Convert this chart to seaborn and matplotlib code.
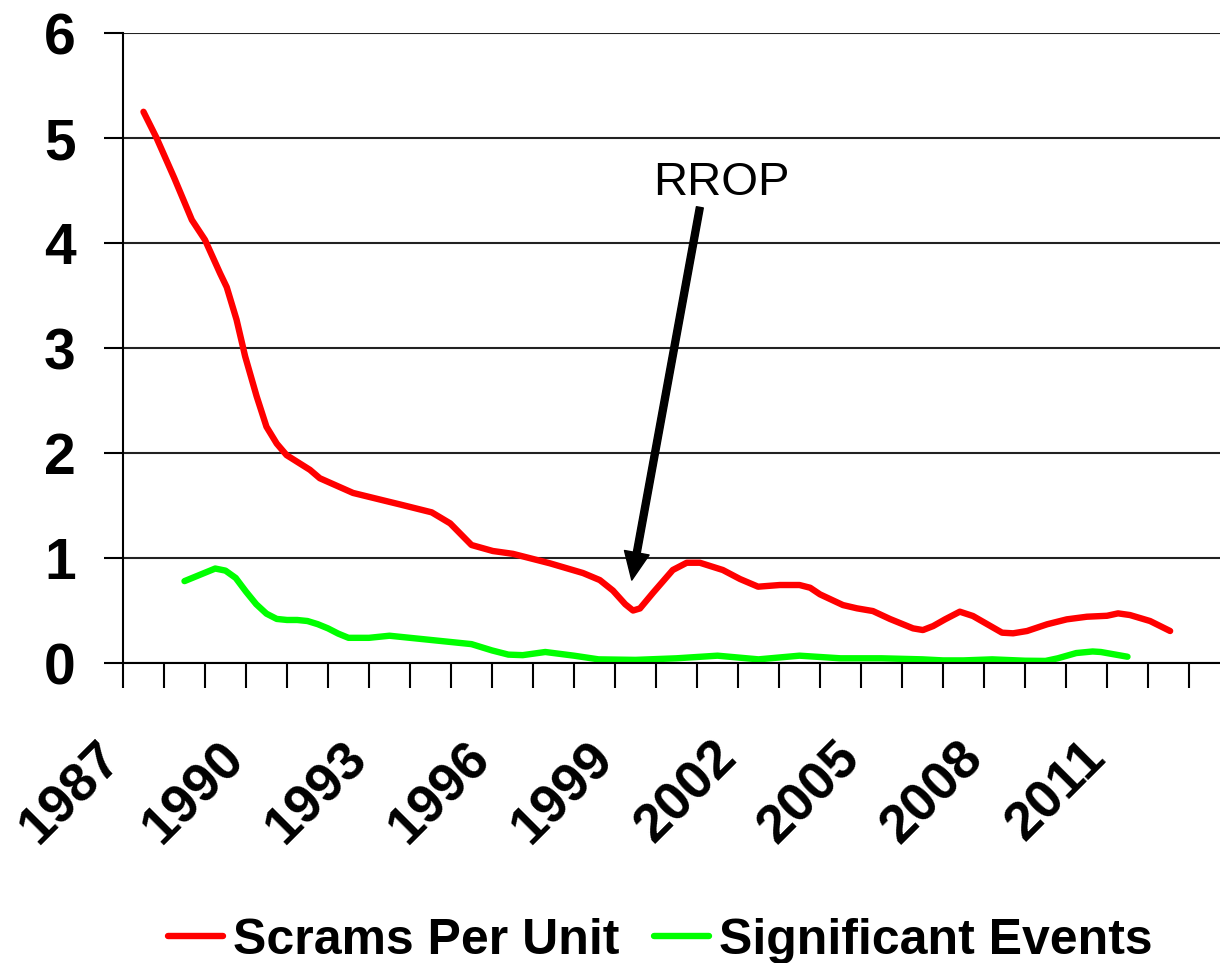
import matplotlib
matplotlib.use("Agg")
import matplotlib.pyplot as plt
import matplotlib.transforms as mtransforms
import pandas as pd
import seaborn as sns

# (year position, value)
scram_years = [1987.0, 1987.32, 1987.75, 1988.18, 1988.5, 1988.87, 1989.03, 1989.27,
               1989.48, 1989.76, 1990.0, 1990.25, 1990.49, 1991.06, 1991.3, 1992.11,
               1992.84, 1993.26, 1994.03, 1994.48, 1995.0, 1995.52, 1996.01, 1996.91,
               1997.72, 1998.13, 1998.45, 1998.75, 1998.94, 1999.11, 1999.43, 1999.91,
               2000.25, 2000.57, 2001.13, 2001.55, 2001.99, 2002.52, 2003.0, 2003.26,
               2003.5, 2004.06, 2004.4, 2004.79, 2005.21, 2005.77, 2006.01, 2006.26,
               2006.55, 2006.91, 2007.23, 2007.94, 2008.21, 2008.55, 2009.04, 2009.52,
               2010.01, 2010.5, 2010.77, 2011.06, 2011.55, 2012.04]
scram_vals = [5.25, 5.00, 4.62, 4.22, 4.03, 3.71, 3.58, 3.27,
              2.92, 2.54, 2.25, 2.09, 1.98, 1.84, 1.76, 1.62,
              1.55, 1.51, 1.435, 1.33, 1.124, 1.067, 1.04, 0.95,
              0.857, 0.79, 0.69, 0.56, 0.50, 0.52, 0.67, 0.886,
              0.955, 0.955, 0.886, 0.80, 0.727, 0.743, 0.743, 0.717,
              0.654, 0.552, 0.521, 0.495, 0.419, 0.33, 0.314, 0.352,
              0.416, 0.489, 0.448, 0.289, 0.283, 0.305, 0.369, 0.416,
              0.441, 0.45, 0.473, 0.457, 0.40, 0.305]

event_years = [1988.0, 1988.25, 1988.5, 1988.75, 1989.0, 1989.25, 1989.5, 1989.75,
               1990.0, 1990.25, 1990.5, 1990.75, 1991.0, 1991.25, 1991.5, 1991.75,
               1992.0, 1992.5, 1993.0, 1993.5, 1994.0, 1994.5, 1995.0, 1995.5,
               1995.9, 1996.25, 1996.8, 1997.5, 1998.1, 1999.0, 2000.0, 2001.0,
               2002.0, 2003.0, 2004.0, 2005.0, 2006.0, 2006.5, 2007.0, 2007.7,
               2008.5, 2009.0, 2009.3, 2009.75, 2010.15, 2010.35, 2011.0]
event_vals = [0.78, 0.82, 0.86, 0.90, 0.88, 0.81, 0.68, 0.56,
              0.47, 0.42, 0.41, 0.41, 0.40, 0.37, 0.33, 0.28,
              0.24, 0.24, 0.26, 0.24, 0.22, 0.20, 0.18, 0.12,
              0.08, 0.075, 0.105, 0.07, 0.035, 0.03, 0.045, 0.07,
              0.035, 0.07, 0.045, 0.045, 0.035, 0.025, 0.025, 0.035,
              0.022, 0.02, 0.045, 0.095, 0.11, 0.105, 0.06]

label_years = list(range(1987, 2012, 3))
series_names = ["Scrams Per Unit", "Significant Events"]

df = pd.concat([
    pd.DataFrame({"year": scram_years, "value": scram_vals, "series": series_names[0]}),
    pd.DataFrame({"year": event_years, "value": event_vals, "series": series_names[1]}),
])

sns.set_style("white")
plt.rcParams["font.family"] = ["Liberation Sans", "DejaVu Sans"]
plt.rcParams["text.color"] = "black"
plt.rcParams["xtick.color"] = "black"
plt.rcParams["ytick.color"] = "black"

fig = plt.figure(figsize=(12.2, 9.63), dpi=100)
ax = fig.add_axes([0.1008, 0.3115, 0.9074, 0.6542])

sns.lineplot(data=df, x="year", y="value", hue="series", estimator=None,
             palette={series_names[0]: "#ff0000", series_names[1]: "#00ff00"},
             linewidth=4.6, ax=ax)
for ln in ax.lines:
    ln.set_solid_capstyle("round")
    ln.set_solid_joinstyle("round")

ax.set_xlim(1986.5, 2013.5)
ax.set_ylim(0, 6)
ax.set_xlabel("")
ax.set_ylabel("")

# year boundaries as tick marks, labels centred on the years
ax.set_xticks([y - 0.5 for y in range(1987, 2014)])
ax.set_xticklabels([])
ax.set_xticks(label_years, minor=True)
ax.set_xticklabels([str(y) for y in label_years], minor=True, rotation=45,
                   ha="right", va="top", fontsize=39, fontweight="bold")
ax.tick_params(axis="x", which="major", direction="out", length=18, width=1.5,
               color="black", bottom=True)
ax.tick_params(axis="x", which="minor", length=0, pad=50)

ax.set_yticks(range(0, 7))
ax.set_yticklabels([str(v) for v in range(0, 7)], fontsize=41, fontweight="bold")
ax.tick_params(axis="y", direction="out", length=14, width=1.5, color="black",
               left=True, pad=20)

ax.grid(axis="y", color="#222222", linewidth=1.5)
ax.grid(axis="x", visible=False)
for side in ["top", "right"]:
    ax.spines[side].set_visible(False)
for side in ["left", "bottom"]:
    ax.spines[side].set_color("black")
    ax.spines[side].set_linewidth(1.5)

shift = mtransforms.ScaledTranslation(-12 / 100, 0, fig.dpi_scale_trans)
for lab in ax.get_xticklabels(minor=True):
    lab.set_transform(lab.get_transform() + shift)

ax.annotate("", xy=(1998.91, 0.79), xytext=(2000.57, 4.34),
            arrowprops=dict(facecolor="black", edgecolor="black", width=5,
                            headwidth=18, headlength=20, shrink=0))
ax.text(2001.09, 4.57, "RROP", ha="center", va="center", fontsize=34)

handles, labels = ax.get_legend_handles_labels()
ax.legend(handles, labels, loc="center", bbox_to_anchor=(0.541, 0.023),
          bbox_transform=fig.transFigure, ncol=2, frameon=False,
          prop={"size": 36, "weight": "bold"}, handlelength=1.1,
          handletextpad=0.2, columnspacing=0.7)

fig.savefig("out.png", dpi=100)
